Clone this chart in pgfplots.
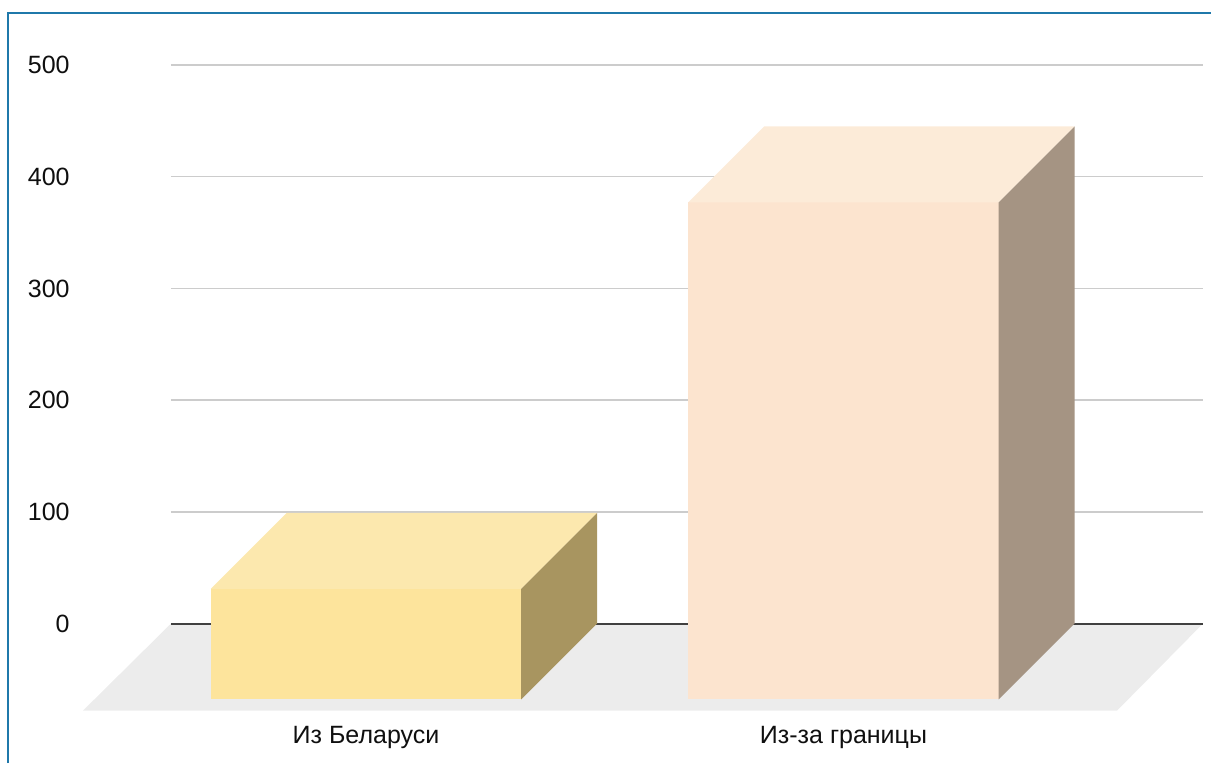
\documentclass[border=0pt]{standalone}
\usepackage{fontspec}
\setmainfont{Liberation Sans}
\usepackage{pgfplots}
\pgfplotsset{compat=1.18}
\definecolor{gridgray}{RGB}{204,204,204}
\definecolor{zeroline}{RGB}{64,64,64}
\definecolor{floorgray}{RGB}{236,236,236}
\definecolor{txt}{RGB}{15,15,15}
\definecolor{bordblue}{RGB}{31,120,170}
\definecolor{aFront}{RGB}{253,228,156}
\definecolor{aTop}{RGB}{252,232,174}
\definecolor{aSide}{RGB}{168,149,96}
\definecolor{bFront}{RGB}{252,228,207}
\definecolor{bTop}{RGB}{252,235,216}
\definecolor{bSide}{RGB}{165,148,131}
\begin{document}
\fontsize{12.5pt}{15pt}\selectfont
\begin{tikzpicture}
\begin{axis}[
  x=238.75pt, y=0.5585pt,
  xmin=-0.4084, xmax=1.7529, ymin=-78, ymax=500,
  clip=false,
  axis line style={draw=none},
  major tick length=0pt,
  ytick={0,100,...,500},
  ymajorgrids,
  grid style={color=gridgray, line width=0.75pt},
  xtick={0,1},
  xticklabels={Из Беларуси, Из-за границы},
  xticklabel style={inner sep=0pt, yshift=-7.5pt, text=txt, font=\fontsize{12.5pt}{15pt}\selectfont},
  yticklabel style={inner sep=0pt, anchor=east, xshift=-50.5pt, text=txt, font=\fontsize{12.5pt}{15pt}\selectfont},
  /pgf/number format/assume math mode=true,
]
% page frame and bounding box corners
\coordinate (bbll) at (axis cs:-0.7665,-124.9);
\coordinate (bbur) at (axis cs:1.7696,558.2);
% floor
\fill[floorgray] (axis cs:-0.4084,0) -- (axis cs:1.7529,0) -- (axis cs:1.5728,-78) -- (axis cs:-0.5927,-78) -- cycle;
\draw[zeroline, line width=1pt] (axis cs:-0.4084,0) -- (axis cs:1.7529,0);
% Bar 1: value 99
\addplot[fill=aFront, draw=none] coordinates {(-0.325,-68) (0.325,-68) (0.325,31) (-0.325,31)} -- cycle;
\addplot[fill=aTop, draw=none] coordinates {(-0.325,31) (0.325,31) (0.484,99) (-0.166,99)} -- cycle;
\addplot[fill=aSide, draw=none] coordinates {(0.325,-68) (0.484,0) (0.484,99) (0.325,31)} -- cycle;
% Bar 2: value 445
\addplot[fill=bFront, draw=none] coordinates {(0.675,-68) (1.325,-68) (1.325,377) (0.675,377)} -- cycle;
\addplot[fill=bTop, draw=none] coordinates {(0.675,377) (1.325,377) (1.484,445) (0.834,445)} -- cycle;
\addplot[fill=bSide, draw=none] coordinates {(1.325,-68) (1.484,0) (1.484,445) (1.325,377)} -- cycle;
% frame
\draw[bordblue, line width=1.25pt] (axis cs:-0.7497,-124.9) -- (axis cs:-0.7497,546.6) -- (axis cs:1.7696,546.6);
\end{axis}
\pgfresetboundingbox
\useasboundingbox (bbll) rectangle (bbur);
\end{tikzpicture}
\end{document}
